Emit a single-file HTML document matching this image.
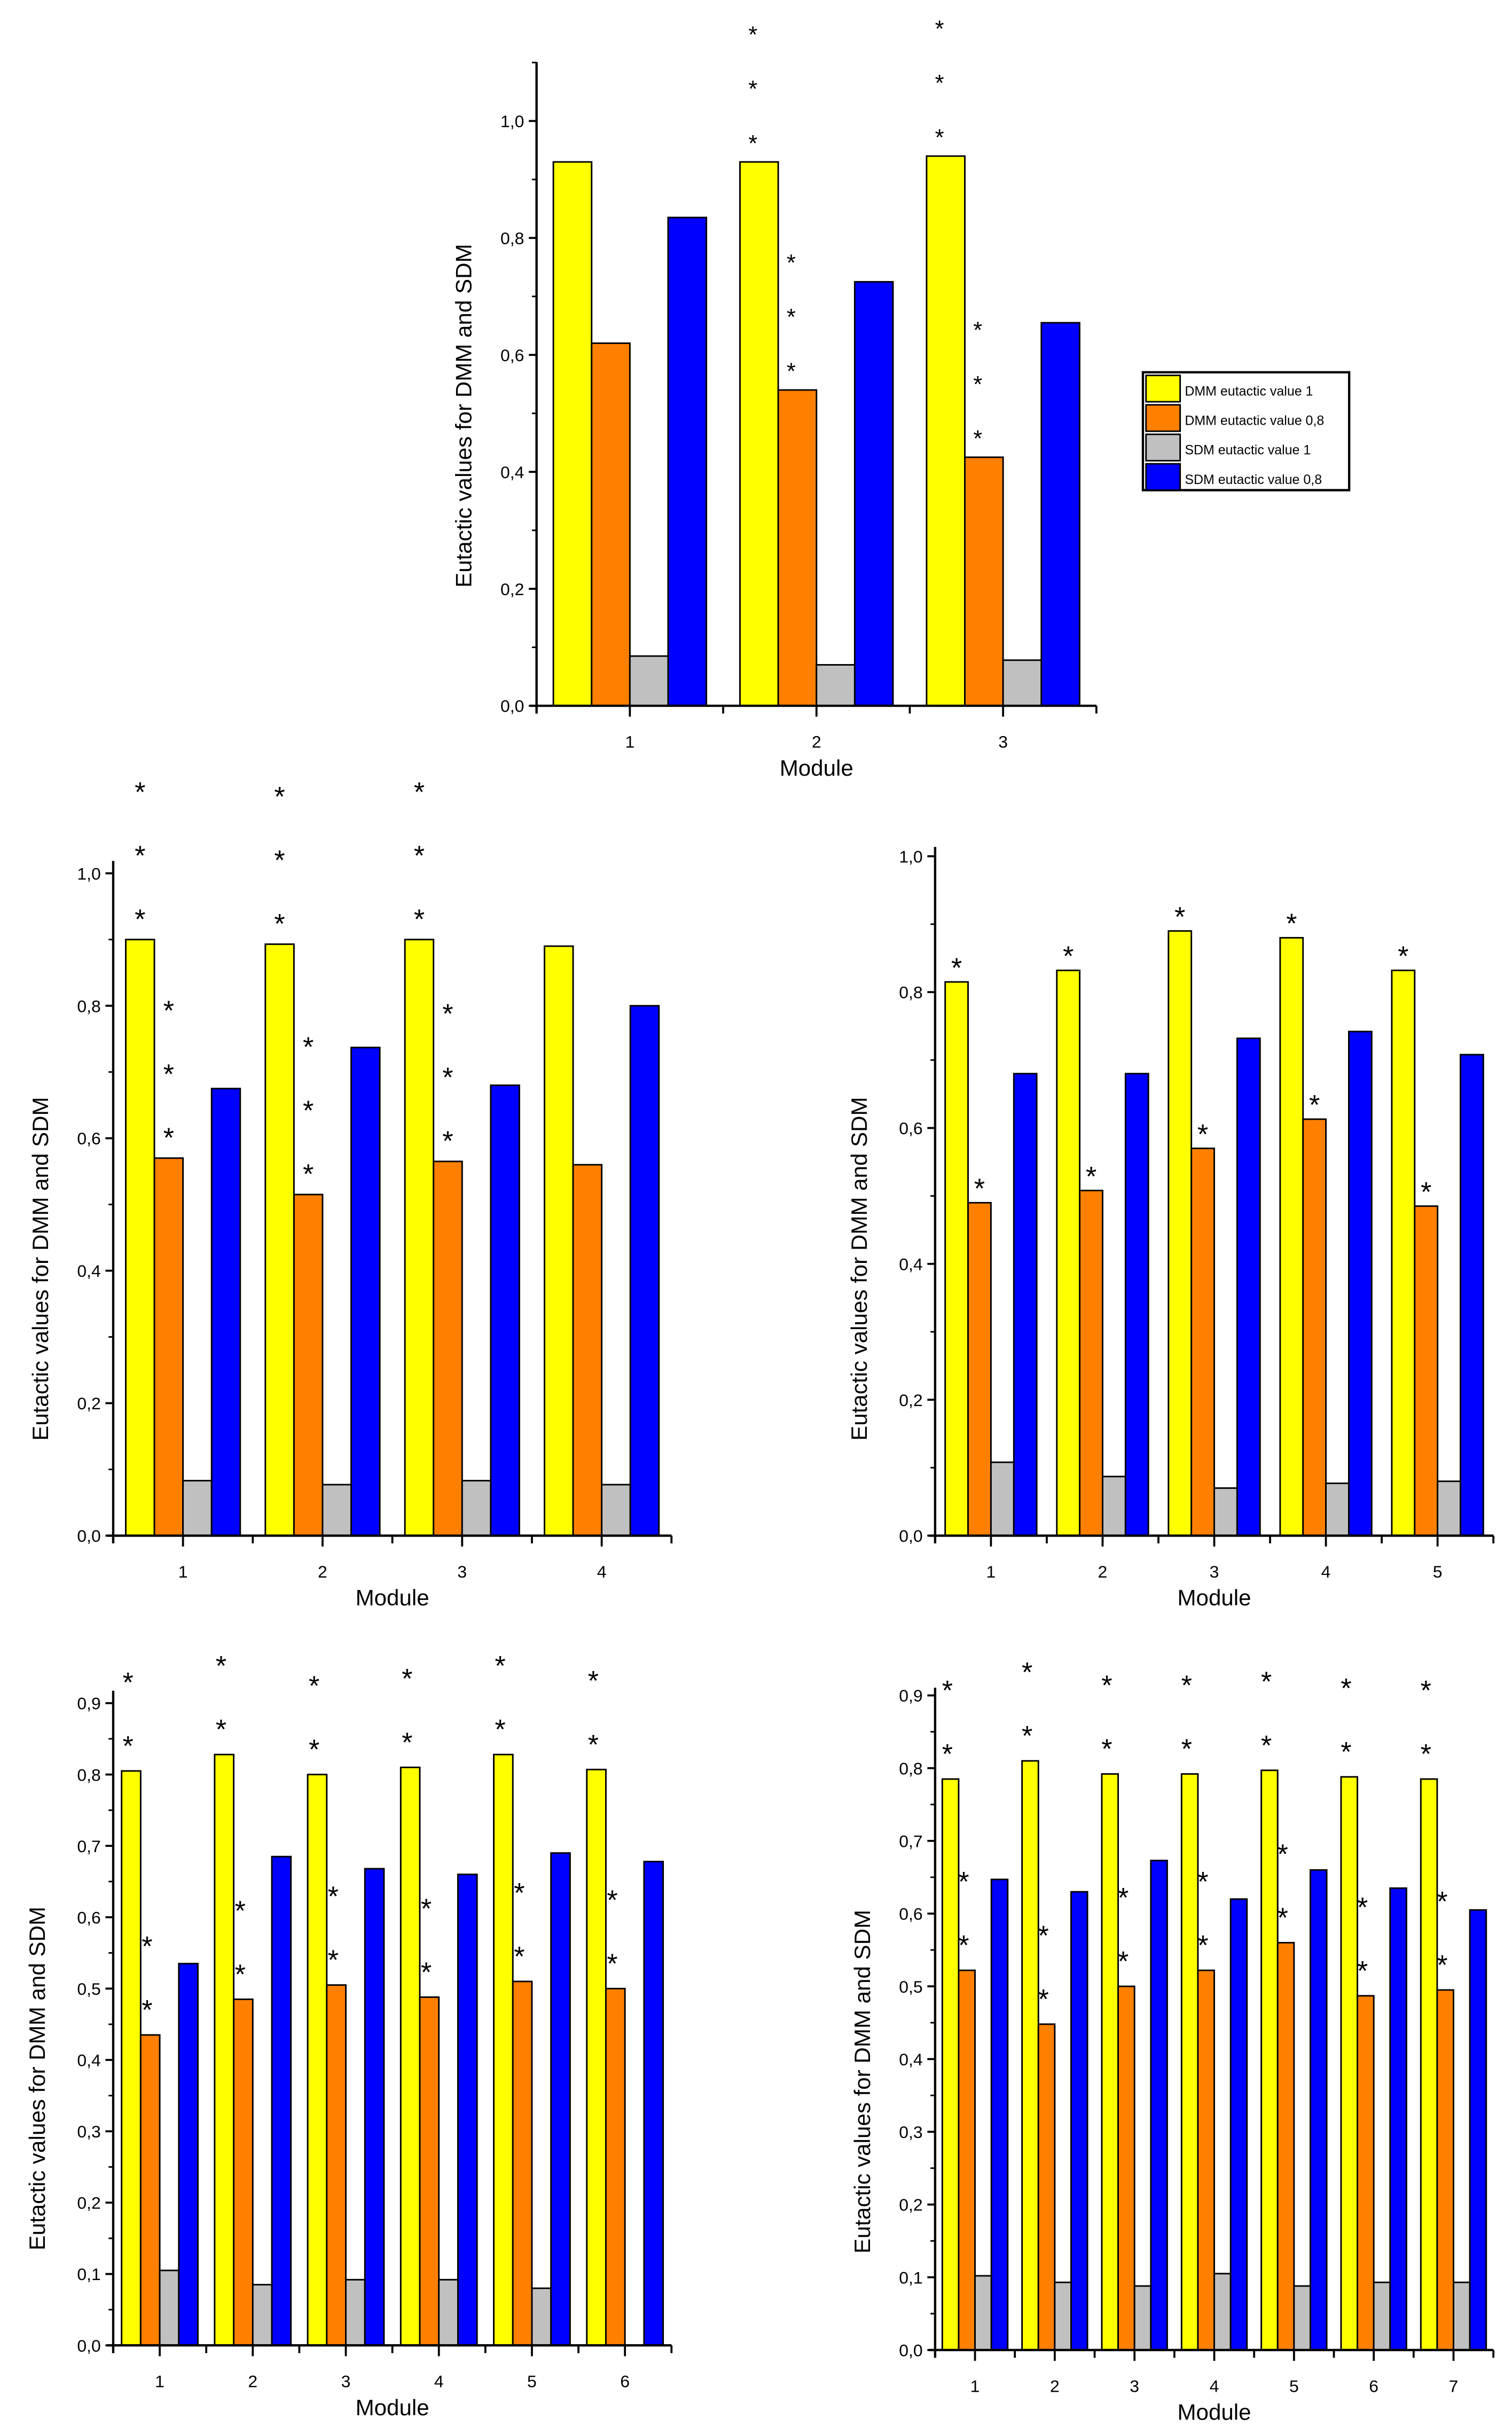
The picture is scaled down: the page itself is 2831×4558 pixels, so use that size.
<!DOCTYPE html>
<html><head><meta charset="utf-8">
<style>
html,body{margin:0;padding:0;background:#fff;}
svg{display:block;}
text{font-family:"Liberation Sans",sans-serif;fill:#000;}
</style></head>
<body>
<svg id="fig" xmlns="http://www.w3.org/2000/svg" width="2831" height="4558" viewBox="0 0 975 1569.8" preserveAspectRatio="none"></svg>
<script>
// ---------- data ----------
const series = ["DMM eutactic value 1","DMM eutactic value 0,8","SDM eutactic value 1","SDM eutactic value 0,8"];
const colors = ["#ffff00","#ff8000","#c0c0c0","#0000ff"];

const c1Cats = ["1","2","3"];
const c1Y1 = [0.93,0.93,0.94];
const c1Y08 = [0.62,0.54,0.425];
const c1S1 = [0.085,0.07,0.078];
const c1S08 = [0.835,0.725,0.655];
const c1StarsY = [0,3,3];
const c1StarsO = [0,3,3];
const c1Ticks = ["0,0","0,2","0,4","0,6","0,8","1,0"];

const c2Cats = ["1","2","3","4"];
const c2Y1 = [0.9,0.893,0.9,0.89];
const c2Y08 = [0.57,0.515,0.565,0.56];
const c2S1 = [0.083,0.077,0.083,0.077];
const c2S08 = [0.675,0.737,0.68,0.8];
const c2StarsY = [3,3,3,0];
const c2StarsO = [3,3,3,0];
const c2Ticks = ["0,0","0,2","0,4","0,6","0,8","1,0"];

const c3Cats = ["1","2","3","4","5"];
const c3Y1 = [0.815,0.832,0.89,0.88,0.832];
const c3Y08 = [0.49,0.508,0.57,0.613,0.485];
const c3S1 = [0.108,0.087,0.07,0.077,0.08];
const c3S08 = [0.68,0.68,0.732,0.742,0.708];
const c3StarsY = [1,1,1,1,1];
const c3StarsO = [1,1,1,1,1];
const c3Ticks = ["0,0","0,2","0,4","0,6","0,8","1,0"];

const c4Cats = ["1","2","3","4","5","6"];
const c4Y1 = [0.805,0.828,0.8,0.81,0.828,0.807];
const c4Y08 = [0.435,0.485,0.505,0.488,0.51,0.5];
const c4S1 = [0.105,0.085,0.092,0.092,0.08,0];
const c4S08 = [0.535,0.685,0.668,0.66,0.69,0.678];
const c4StarsY = [2,2,2,2,2,2];
const c4StarsO = [2,2,2,2,2,2];
const c4Ticks = ["0,0","0,1","0,2","0,3","0,4","0,5","0,6","0,7","0,8","0,9"];

const c5Cats = ["1","2","3","4","5","6","7"];
const c5Y1 = [0.785,0.81,0.792,0.792,0.797,0.788,0.785];
const c5Y08 = [0.522,0.448,0.5,0.522,0.56,0.487,0.495];
const c5S1 = [0.102,0.093,0.088,0.105,0.088,0.093,0.093];
const c5S08 = [0.647,0.63,0.673,0.62,0.66,0.635,0.605];
const c5StarsY = [2,2,2,2,2,2,2];
const c5StarsO = [2,2,2,2,2,2,2];
const c5Ticks = ["0,0","0,1","0,2","0,3","0,4","0,5","0,6","0,7","0,8","0,9"];

// ---------- drawing ----------
const NS="http://www.w3.org/2000/svg";
const svg=document.getElementById('fig');
function mk(tag,attrs,parent){const e=document.createElementNS(NS,tag);for(const k in attrs)e.setAttribute(k,attrs[k]);(parent||svg).appendChild(e);return e;}

function chart(id,cfg,cats,vals,starsY,starsO,ticks){
  const g=mk('g',{});
  
  
  const x0=cfg.x0,x1=cfg.x1,y0=cfg.y0,yTop=cfg.yTop,vMax=cfg.vMax,tickStep=cfg.tickStep;
  const yS=v=>y0-(v/vMax)*(y0-cfg.yMaxPix);
  const gw=(x1-x0)/cats.length;
  const bw=gw*0.205;
  // bars
  cats.forEach((c,i)=>{
    const cx=x0+gw*(i+0.5);
    vals.forEach((arr,s)=>{
      const v=arr[i]; if(v<=0) return;
      const bx=cx-2*bw+s*bw, by=yS(v);
      const r=mk('rect',{x:bx,y:by,width:bw,height:y0-by,fill:colors[s],stroke:'#000','stroke-width':1},g);
      
      
    });
    const addStars=(n,s)=>{
      const top=yS(vals[s][i]);
      const sx=cx-2*bw+s*bw+bw*0.5+cfg.starDx;
      for(let k=0;k<n;k++){
        const t=mk('text',{x:sx,y:top-cfg.starOff-k*cfg.starGap+9,'font-size':cfg.starSize,'text-anchor':'middle'},g);
        t.textContent='*';
        
        
      }
    };
    addStars(starsY[i],0);addStars(starsO[i],1);
    // x labels
    const t=mk('text',{x:cx,y:y0+27,'font-size':11,'text-anchor':'middle'},g);
    t.textContent=c;
    
    
    mk('line',{x1:cx,y1:y0,x2:cx,y2:y0+7,stroke:'#000','stroke-width':1.3},g);
  });
  for(let i=0;i<=cats.length;i++){const bx=x0+gw*i;mk('line',{x1:bx,y1:y0,x2:bx,y2:y0+5,stroke:'#000','stroke-width':1.3},g);}
  // axes
  mk('line',{x1:x0,y1:yTop,x2:x0,y2:y0+5,stroke:'#000','stroke-width':1.5},g);
  mk('line',{x1:x0-4,y1:y0,x2:x1,y2:y0,stroke:'#000','stroke-width':1.5},g);
  // y ticks
  ticks.forEach((lab,i)=>{
    const v=i*tickStep, y=yS(v);
    mk('line',{x1:x0-5,y1:y,x2:x0,y2:y,stroke:'#000','stroke-width':1.3},g);
    const t=mk('text',{x:x0-8,y:y+4,'font-size':11,'text-anchor':'end'},g);
    t.textContent=lab;
    
    
    const vm=v+tickStep/2;
    if(vm<=vMax*1.1 && yS(vm)>=yTop) mk('line',{x1:x0-3,y1:yS(vm),x2:x0,y2:yS(vm),stroke:'#000','stroke-width':1},g);
  });
  // titles
  const yt=mk('text',{x:cfg.ylx,y:cfg.yly,'font-size':14.5,'text-anchor':'middle',transform:`rotate(-90 ${cfg.ylx} ${cfg.yly})`},g);
  yt.textContent='Eutactic values for DMM and SDM';
  
  
  const xt=mk('text',{x:(x0+x1)/2,y:y0+45,'font-size':14.5,'text-anchor':'middle'},g);
  xt.textContent='Module';
  
  
}

chart('chart-3-modules',{x0:346,x1:707,y0:455,yTop:40,yMaxPix:78,vMax:1,tickStep:0.2,ylx:304,yly:268,starOff:16,starGap:35,starSize:15,starDx:-4},
  c1Cats,[c1Y1,c1Y08,c1S1,c1S08],c1StarsY,c1StarsO,c1Ticks);
chart('chart-4-modules',{x0:73,x1:433,y0:990,yTop:555,yMaxPix:563,vMax:1,tickStep:0.2,ylx:31,yly:818,starOff:16,starGap:41,starSize:18,starDx:0},
  c2Cats,[c2Y1,c2Y08,c2S1,c2S08],c2StarsY,c2StarsO,c2Ticks);
chart('chart-5-modules',{x0:603,x1:963,y0:990,yTop:546,yMaxPix:552,vMax:1,tickStep:0.2,ylx:559,yly:818,starOff:12,starGap:40,starSize:18,starDx:0},
  c3Cats,[c3Y1,c3Y08,c3S1,c3S08],c3StarsY,c3StarsO,c3Ticks);
chart('chart-6-modules',{x0:73,x1:433,y0:1512,yTop:1090,yMaxPix:1098,vMax:0.9,tickStep:0.1,ylx:29,yly:1340,starOff:19,starGap:41,starSize:18,starDx:-2},
  c4Cats,[c4Y1,c4Y08,c4S1,c4S08],c4StarsY,c4StarsO,c4Ticks);
chart('chart-7-modules',{x0:603,x1:963,y0:1515,yTop:1088,yMaxPix:1093,vMax:0.9,tickStep:0.1,ylx:561,yly:1342,starOff:19,starGap:41,starSize:18,starDx:-2},
  c5Cats,[c5Y1,c5Y08,c5S1,c5S08],c5StarsY,c5StarsO,c5Ticks);

// legend
const lg=mk('g',{});


mk('rect',{x:737,y:240,width:133,height:76,fill:'#fff',stroke:'#000','stroke-width':1.5},lg);
series.forEach((s,i)=>{
  const y=240+i*19;
  mk('rect',{x:739,y:y+2,width:22,height:17,fill:colors[i],stroke:'#000','stroke-width':1},lg);
  const t=mk('text',{x:764,y:y+15,'font-size':8.6},lg);
  t.textContent=s;
  
  
});
</script>
</body></html>
